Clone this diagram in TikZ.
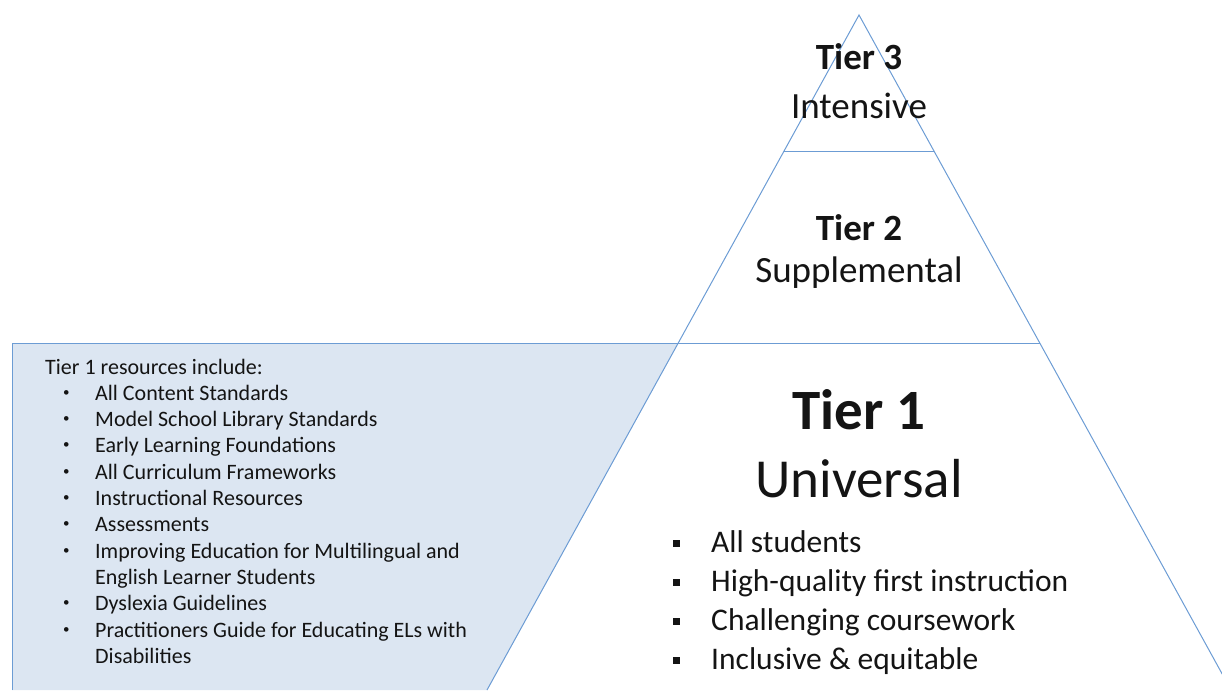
\documentclass[tikz,border=0pt]{standalone}
\usepackage{fontspec}
\setmainfont{Carlito}
\definecolor{tierline}{RGB}{108,156,212}
\definecolor{boxfill}{RGB}{220,230,242}
\definecolor{ink}{RGB}{20,20,20}
\newcommand{\resdot}{\makebox[34pt][l]{\hspace{2pt}\raisebox{4pt}{\fontsize{13}{13}\selectfont•}}}
\newcommand{\keysquare}{\makebox[38pt][l]{\rule[5.5pt]{6.5pt}{6.5pt}}}
\begin{document}
\begin{tikzpicture}[x=1pt,y=-1pt,
  tl/.style={draw=tierline,line width=1pt},
  tiername/.style={anchor=base,inner sep=0pt,text=ink,font=\fontsize{37}{40}\selectfont\bfseries},
  tierkind/.style={anchor=base,inner sep=0pt,text=ink,font=\fontsize{37}{40}\selectfont},
  restext/.style={anchor=base west,inner sep=0pt,text=ink,font=\fontsize{22}{26}\selectfont},
  keytext/.style={anchor=base west,inner sep=0pt,text=ink,font=\fontsize{31.5}{38}\selectfont}]
\useasboundingbox (0,0) rectangle (1222,690);
\clip (0,0) rectangle (1222,690);
% geometry
\coordinate (apex) at (859,15);
\coordinate (bl) at (487,690);
\coordinate (br) at (1231,690);
\coordinate (boxtl) at (12,343);
\coordinate (boxbl) at (12,690);
\coordinate (t1l) at (678.3,343);
\coordinate (t1r) at (1039.7,343);
\coordinate (t3l) at (784.1,151);
\coordinate (t3r) at (933.9,151);
\fill[boxfill] (boxtl) -- (t1l) -- (bl) -- (boxbl) -- cycle;
\draw[tl] (boxbl) -- (boxtl) -- (t1r);
\draw[tl] (bl) -- (apex) -- (br);
\draw[tl] (t3l) -- (t3r);
% tier labels
\node[tiername] (tier3) at (859,70) {Tier 3};
\node[tierkind] (intensive) at (859,118) {Intensive};
\node[tiername] (tier2) at (859,240) {Tier 2};
\node[tierkind] (supplemental) at (859,282) {Supplemental};
\node[tiername,font=\fontsize{57}{60}\selectfont\bfseries] (tier1) at (859,429) {Tier 1};
\node[tierkind,font=\fontsize{55}{60}\selectfont] (universal) at (859,497) {Universal};
% tier 1 key points
\foreach \txt/\yy [count=\i] in {All students/552, High-quality first instruction/591, Challenging coursework/630, Inclusive \& equitable/669}
  \node[keytext] (key\i) at (673,\yy) {\keysquare\txt};
% resources list
\node[restext] (res0) at (45,374) {Tier 1 resources include:};
\foreach \txt/\k in {All Content Standards/1, Model School Library Standards/2, Early Learning Foundations/3, All Curriculum Frameworks/4, Instructional Resources/5, Assessments/6, Improving Education for Multilingual and/7, Dyslexia Guidelines/9, Practitioners Guide for Educating ELs with/10}
  \node[restext] (res\k) at (61,374+26.3*\k) {\resdot\txt};
\foreach \txt/\k in {English Learner Students/8, Disabilities/11}
  \node[restext] (res\k) at (95,374+26.3*\k) {\txt};
\end{tikzpicture}
\end{document}
